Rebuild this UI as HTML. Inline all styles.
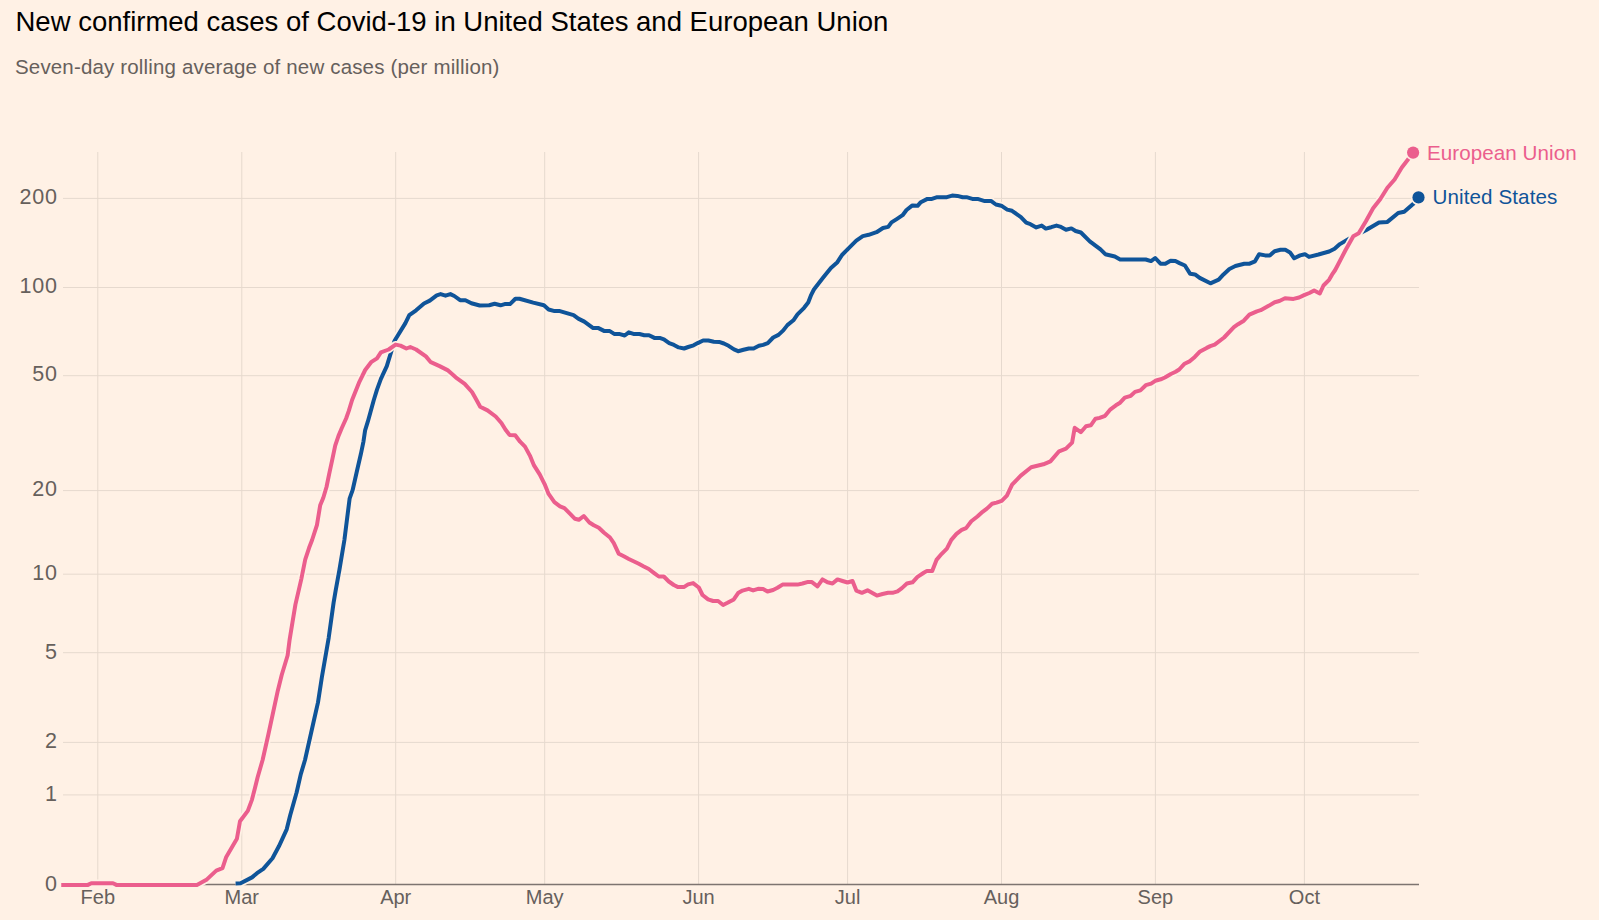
<!DOCTYPE html>
<html><head><meta charset="utf-8"><style>
html,body{margin:0;padding:0;background:#fff1e5;width:1599px;height:920px;overflow:hidden}
svg{position:absolute;left:0;top:0}
.ax{font:20px "Liberation Sans",sans-serif;fill:#66605c}
.num{font-size:21.5px;letter-spacing:0.75px}
.lab{font:20.6px "Liberation Sans",sans-serif}
</style></head><body>
<svg width="1599" height="920" viewBox="0 0 1599 920">
<text x="15.5" y="31" style="font:27.5px 'Liberation Sans',sans-serif" fill="#000">New confirmed cases of Covid-19 in United States and European Union</text>
<text x="15" y="73.6" style="font:20.5px 'Liberation Sans',sans-serif;letter-spacing:0.16px" fill="#66605c">Seven-day rolling average of new cases (per million)</text>
<line x1="63" x2="1419" y1="198.4" y2="198.4" stroke="#e6d9ce" stroke-width="1"/>
<line x1="63" x2="1419" y1="287.5" y2="287.5" stroke="#e6d9ce" stroke-width="1"/>
<line x1="63" x2="1419" y1="375.7" y2="375.7" stroke="#e6d9ce" stroke-width="1"/>
<line x1="63" x2="1419" y1="490.6" y2="490.6" stroke="#e6d9ce" stroke-width="1"/>
<line x1="63" x2="1419" y1="574.2" y2="574.2" stroke="#e6d9ce" stroke-width="1"/>
<line x1="63" x2="1419" y1="652.7" y2="652.7" stroke="#e6d9ce" stroke-width="1"/>
<line x1="63" x2="1419" y1="742.4" y2="742.4" stroke="#e6d9ce" stroke-width="1"/>
<line x1="63" x2="1419" y1="794.9" y2="794.9" stroke="#e6d9ce" stroke-width="1"/>
<line x1="97.8" x2="97.8" y1="152" y2="884" stroke="#e6d9ce" stroke-width="1"/>
<line x1="241.8" x2="241.8" y1="152" y2="884" stroke="#e6d9ce" stroke-width="1"/>
<line x1="395.7" x2="395.7" y1="152" y2="884" stroke="#e6d9ce" stroke-width="1"/>
<line x1="544.7" x2="544.7" y1="152" y2="884" stroke="#e6d9ce" stroke-width="1"/>
<line x1="698.6" x2="698.6" y1="152" y2="884" stroke="#e6d9ce" stroke-width="1"/>
<line x1="847.6" x2="847.6" y1="152" y2="884" stroke="#e6d9ce" stroke-width="1"/>
<line x1="1001.5" x2="1001.5" y1="152" y2="884" stroke="#e6d9ce" stroke-width="1"/>
<line x1="1155.4" x2="1155.4" y1="152" y2="884" stroke="#e6d9ce" stroke-width="1"/>
<line x1="1304.4" x2="1304.4" y1="152" y2="884" stroke="#e6d9ce" stroke-width="1"/>
<line x1="63" x2="1419" y1="884.5" y2="884.5" stroke="#7d7470" stroke-width="1.3"/>
<text x="57.7" y="204.0" text-anchor="end" class="ax num">200</text>
<text x="57.7" y="293.1" text-anchor="end" class="ax num">100</text>
<text x="57.7" y="381.3" text-anchor="end" class="ax num">50</text>
<text x="57.7" y="496.20000000000005" text-anchor="end" class="ax num">20</text>
<text x="57.7" y="579.8000000000001" text-anchor="end" class="ax num">10</text>
<text x="57.7" y="659.3000000000001" text-anchor="end" class="ax num">5</text>
<text x="57.7" y="748.3" text-anchor="end" class="ax num">2</text>
<text x="57.7" y="800.8" text-anchor="end" class="ax num">1</text>
<text x="57.7" y="891.2" text-anchor="end" class="ax num">0</text>
<text x="97.8" y="904" text-anchor="middle" class="ax">Feb</text>
<text x="241.8" y="904" text-anchor="middle" class="ax">Mar</text>
<text x="395.7" y="904" text-anchor="middle" class="ax">Apr</text>
<text x="544.7" y="904" text-anchor="middle" class="ax">May</text>
<text x="698.6" y="904" text-anchor="middle" class="ax">Jun</text>
<text x="847.6" y="904" text-anchor="middle" class="ax">Jul</text>
<text x="1001.5" y="904" text-anchor="middle" class="ax">Aug</text>
<text x="1155.4" y="904" text-anchor="middle" class="ax">Sep</text>
<text x="1304.4" y="904" text-anchor="middle" class="ax">Oct</text>
<polyline points="235.6,883.5 240.6,883.3 252,877.4 257,873.2 263.3,868.9 272.5,858.3 278.9,846.3 286.7,829.3 290.2,815.2 296.6,792.5 300.8,774.1 305,760 314,720 318,702.4 321.9,677 328.7,637.8 333.6,602.6 335.6,590.9 339.5,569.4 344.4,540 349.6,498.7 352.6,490.2 357,470.7 360.8,454.3 363.5,441.3 365.1,430.4 367.8,421.7 370.5,412 373.8,400 377,389.6 380.9,378.9 386.8,366.1 394.6,340.7 405.4,323.1 409.3,315.2 416.1,310.3 424,303.5 429.8,300.6 436.7,295.3 440.6,294.1 445.5,295.7 450.4,294.1 454.3,296 460.1,300.2 465.4,300.2 471.4,303.2 479.7,305.5 489.2,305.3 494.6,303.8 500.5,305.3 504.7,304.1 510,304.1 515.4,298.8 519.5,298.8 533.2,302.6 543.9,305.3 548.6,309.5 554.6,311.1 559.9,311.1 573.6,315.1 578.3,318.6 584.3,321.6 593.2,328.1 598.5,328.1 604.5,331.1 609.8,331.1 614.6,334.1 619.9,334.1 624.7,335.5 628.8,332.3 634.2,334.1 639.5,334 644.3,335.2 649,335.2 654.4,337.9 659.7,337.9 663.9,339.3 669.2,343.1 674,344.9 678.7,347.4 684.1,348.5 688.2,347 693.6,345.3 697.7,343.1 703.1,340.5 708.4,340.5 713.8,341.7 719.1,341.9 723.9,343.5 728.6,345.8 734,349.4 738.1,351.2 743.5,349.8 748.8,348.5 753.6,348.5 758.9,345.8 763.1,344.9 767.8,343.1 773.2,337.5 778.5,334.9 783.3,330.4 787.4,325.1 793.4,320.3 797.5,314.4 804.1,307.8 808.2,302.5 811.2,294.8 813.9,289.5 823,277.8 830.9,268 837.4,262.2 842,255 847.8,249.1 856.3,240.6 862.8,236.1 868.7,234.8 876.5,232.2 883,228 888.2,226.9 891.5,222.4 896.7,219.1 902.6,215.2 906.5,210 912.4,205.4 917.6,205.8 920.8,202.2 927.4,198.9 931.9,198.9 937.2,197.2 946.9,197.2 952.2,195.6 957.4,195.9 962.6,197.2 966.5,197.2 972.4,198.9 977.6,198.9 984.8,201.1 991.3,201.1 995.9,204.5 1001.3,205.7 1007.2,209.6 1012,210.8 1020.9,217.1 1026.2,222.7 1030.4,224.2 1036.3,227.4 1041.7,225.6 1045.8,228.6 1051.2,227.2 1056.5,225.6 1060.1,226.6 1066,229.8 1071.4,228.4 1075.6,231 1080.9,232.5 1089.8,241.3 1100.5,249.4 1105.3,254.2 1114.8,256.5 1120.1,259.5 1145.7,259.5 1151,261.1 1155.2,258 1160.5,263.7 1165.3,263.7 1170.6,260.7 1175.4,261 1179.5,263.1 1184.9,265.5 1190.2,273.8 1195,274.4 1199.7,277.9 1210.4,283.3 1218.7,279.7 1223.5,274.4 1229.4,269 1235.4,266 1244.3,263.7 1249.6,263.7 1255,261.3 1259.1,254.2 1265.1,255.4 1269.8,255.4 1274.6,251.2 1280.5,249.8 1285.3,249.8 1290,252.4 1294.2,258.3 1300.1,255.4 1304.9,254.2 1309,256.9 1318.5,254.5 1329.2,251.5 1334.6,248.8 1339.9,244.1 1349.1,238.7 1365.9,230.3 1379,222.5 1387.4,221.9 1398.2,213 1404.2,211.8 1413.7,203.4 1418.5,197.4" fill="none" stroke="#fff1e5" stroke-width="7.4" stroke-linejoin="round"/>
<polyline points="235.6,883.5 240.6,883.3 252,877.4 257,873.2 263.3,868.9 272.5,858.3 278.9,846.3 286.7,829.3 290.2,815.2 296.6,792.5 300.8,774.1 305,760 314,720 318,702.4 321.9,677 328.7,637.8 333.6,602.6 335.6,590.9 339.5,569.4 344.4,540 349.6,498.7 352.6,490.2 357,470.7 360.8,454.3 363.5,441.3 365.1,430.4 367.8,421.7 370.5,412 373.8,400 377,389.6 380.9,378.9 386.8,366.1 394.6,340.7 405.4,323.1 409.3,315.2 416.1,310.3 424,303.5 429.8,300.6 436.7,295.3 440.6,294.1 445.5,295.7 450.4,294.1 454.3,296 460.1,300.2 465.4,300.2 471.4,303.2 479.7,305.5 489.2,305.3 494.6,303.8 500.5,305.3 504.7,304.1 510,304.1 515.4,298.8 519.5,298.8 533.2,302.6 543.9,305.3 548.6,309.5 554.6,311.1 559.9,311.1 573.6,315.1 578.3,318.6 584.3,321.6 593.2,328.1 598.5,328.1 604.5,331.1 609.8,331.1 614.6,334.1 619.9,334.1 624.7,335.5 628.8,332.3 634.2,334.1 639.5,334 644.3,335.2 649,335.2 654.4,337.9 659.7,337.9 663.9,339.3 669.2,343.1 674,344.9 678.7,347.4 684.1,348.5 688.2,347 693.6,345.3 697.7,343.1 703.1,340.5 708.4,340.5 713.8,341.7 719.1,341.9 723.9,343.5 728.6,345.8 734,349.4 738.1,351.2 743.5,349.8 748.8,348.5 753.6,348.5 758.9,345.8 763.1,344.9 767.8,343.1 773.2,337.5 778.5,334.9 783.3,330.4 787.4,325.1 793.4,320.3 797.5,314.4 804.1,307.8 808.2,302.5 811.2,294.8 813.9,289.5 823,277.8 830.9,268 837.4,262.2 842,255 847.8,249.1 856.3,240.6 862.8,236.1 868.7,234.8 876.5,232.2 883,228 888.2,226.9 891.5,222.4 896.7,219.1 902.6,215.2 906.5,210 912.4,205.4 917.6,205.8 920.8,202.2 927.4,198.9 931.9,198.9 937.2,197.2 946.9,197.2 952.2,195.6 957.4,195.9 962.6,197.2 966.5,197.2 972.4,198.9 977.6,198.9 984.8,201.1 991.3,201.1 995.9,204.5 1001.3,205.7 1007.2,209.6 1012,210.8 1020.9,217.1 1026.2,222.7 1030.4,224.2 1036.3,227.4 1041.7,225.6 1045.8,228.6 1051.2,227.2 1056.5,225.6 1060.1,226.6 1066,229.8 1071.4,228.4 1075.6,231 1080.9,232.5 1089.8,241.3 1100.5,249.4 1105.3,254.2 1114.8,256.5 1120.1,259.5 1145.7,259.5 1151,261.1 1155.2,258 1160.5,263.7 1165.3,263.7 1170.6,260.7 1175.4,261 1179.5,263.1 1184.9,265.5 1190.2,273.8 1195,274.4 1199.7,277.9 1210.4,283.3 1218.7,279.7 1223.5,274.4 1229.4,269 1235.4,266 1244.3,263.7 1249.6,263.7 1255,261.3 1259.1,254.2 1265.1,255.4 1269.8,255.4 1274.6,251.2 1280.5,249.8 1285.3,249.8 1290,252.4 1294.2,258.3 1300.1,255.4 1304.9,254.2 1309,256.9 1318.5,254.5 1329.2,251.5 1334.6,248.8 1339.9,244.1 1349.1,238.7 1365.9,230.3 1379,222.5 1387.4,221.9 1398.2,213 1404.2,211.8 1413.7,203.4 1418.5,197.4" fill="none" stroke="#0f5499" stroke-width="4.0" stroke-linejoin="round"/>
<polyline points="61.25,884.9 87.9,884.9 91.3,883.2 113,883.2 116.4,884.9 196.9,884.9 206.9,879.4 216.25,870.6 222.5,868.1 226.25,856.9 236.9,838.75 240,821.25 247.8,810.9 252,799.6 254.9,788.3 257.7,777 262.6,760 268.3,734.8 277.8,690.7 281.7,675 287.6,655.5 289.6,639.8 292.5,622.2 295.4,604.6 301.3,579.1 305.2,559.6 309.1,547.8 312.1,540 317,524.8 320.2,505.2 323.3,497.8 326.5,487 329.2,473.9 332,460.9 335.2,445.7 338.5,435.9 341.7,428.3 346.1,418.5 348.8,410.9 352.1,400 359.4,381.8 365.2,370 371.1,362.2 377,358.3 380.9,352.4 388.7,349.5 395.6,344.6 400.5,345.6 406.4,348.5 410.3,347 416.1,349.5 425.9,356.4 430.8,362.2 439.6,366.1 447.5,370.1 455.7,377.3 464.7,383.9 472,392 476.1,399.3 480.2,406.7 487.5,410.4 495.7,416.5 501.4,423 505.4,429.5 509.5,434.9 515.2,435.2 520.1,441.7 525,446.6 529.9,455.6 534,465.4 539.7,474.4 544.6,484.1 548.6,493.9 554.4,502.1 560,506.3 564.4,508.1 569.4,513.1 575,518.8 578.8,519.8 583.8,516 589.4,522.5 593.8,525.3 598.8,527.8 603.8,532.5 610,537.5 613.8,543.1 618.8,553.8 623.8,556.3 628.8,559 638.8,563.8 643.8,566.5 648.8,569 653.8,572.8 658.8,576.5 663.8,576.5 668.8,581.5 673.8,585 678.1,587.1 683.8,587.1 688.1,584.4 693.1,583.1 698.8,587.5 702.5,595 708.1,599.4 713.1,601 718.1,601 723.1,605 727.5,602.8 733.8,599.4 738.1,593.1 742.5,590.6 748.8,588.8 753.1,590.4 758.1,588.8 763.1,589 767.5,591.5 773.1,590 777.5,587.8 782.5,584.6 797.5,584.6 802.5,583.5 808.1,581.9 811.9,582.1 817.5,586.3 822.5,579.4 827.5,582.3 832.5,583.5 837.5,579.4 842.5,581 847.5,582.5 852.5,581 856.3,590.6 861.9,592.8 867.5,590.3 876.9,595.6 882.5,594 888.1,592.8 892.5,592.8 897.5,591.3 901.9,588.1 906.9,583.5 912.5,582.3 917.5,576.9 923.8,572.8 927,570.9 932.2,570.9 936.5,559.9 941.7,553.8 946.9,548.6 951.3,539.9 956.5,533.9 961.7,529.9 966.1,528.1 971.3,521.3 977.4,516.5 982.6,511.8 986.9,508.6 992.1,503.8 996.5,502.6 1001.7,500.8 1006.9,495.6 1012.1,484.7 1020.8,475.6 1031.2,467.3 1043.4,464.3 1050.4,461.4 1059.1,451.3 1066,448.7 1072.1,442.6 1074.7,427.8 1080.8,432.2 1086,426.2 1090.8,425.3 1095.5,418.7 1099.7,417.9 1105.1,415.8 1110.5,409.3 1115.9,405.3 1120.1,402.7 1124.8,397.6 1130.8,395.8 1135,391.9 1140.4,390.4 1145.8,385.2 1151.1,383.6 1155.3,380.8 1160.7,379.3 1164.9,377.5 1170.9,374 1175.6,371.8 1179.2,369.5 1184.6,363.7 1190,361.1 1194.8,356.9 1199.6,351.8 1206.7,347.9 1210.3,346.1 1214.7,344.6 1224.1,337.5 1233.9,327.2 1238.1,324.2 1243.8,320.7 1249.4,314.6 1256.9,311.3 1260.7,310.2 1269.1,305.6 1274.7,302.2 1279.4,301 1285,298.3 1293.5,298.9 1299.1,297.5 1304.7,294.9 1309.4,293 1314.1,290.5 1319.8,293.5 1323.5,285.5 1329.1,279.8 1332,274.7 1335.2,270 1345.6,250 1353.3,236.3 1358.7,233.3 1365.9,221.3 1373.1,208.2 1380.2,199.2 1387.4,187.8 1394.6,179.5 1401.8,167.5 1407.8,159.7 1413.1,152.6" fill="none" stroke="#fff1e5" stroke-width="7.4" stroke-linejoin="round"/>
<polyline points="61.25,884.9 87.9,884.9 91.3,883.2 113,883.2 116.4,884.9 196.9,884.9 206.9,879.4 216.25,870.6 222.5,868.1 226.25,856.9 236.9,838.75 240,821.25 247.8,810.9 252,799.6 254.9,788.3 257.7,777 262.6,760 268.3,734.8 277.8,690.7 281.7,675 287.6,655.5 289.6,639.8 292.5,622.2 295.4,604.6 301.3,579.1 305.2,559.6 309.1,547.8 312.1,540 317,524.8 320.2,505.2 323.3,497.8 326.5,487 329.2,473.9 332,460.9 335.2,445.7 338.5,435.9 341.7,428.3 346.1,418.5 348.8,410.9 352.1,400 359.4,381.8 365.2,370 371.1,362.2 377,358.3 380.9,352.4 388.7,349.5 395.6,344.6 400.5,345.6 406.4,348.5 410.3,347 416.1,349.5 425.9,356.4 430.8,362.2 439.6,366.1 447.5,370.1 455.7,377.3 464.7,383.9 472,392 476.1,399.3 480.2,406.7 487.5,410.4 495.7,416.5 501.4,423 505.4,429.5 509.5,434.9 515.2,435.2 520.1,441.7 525,446.6 529.9,455.6 534,465.4 539.7,474.4 544.6,484.1 548.6,493.9 554.4,502.1 560,506.3 564.4,508.1 569.4,513.1 575,518.8 578.8,519.8 583.8,516 589.4,522.5 593.8,525.3 598.8,527.8 603.8,532.5 610,537.5 613.8,543.1 618.8,553.8 623.8,556.3 628.8,559 638.8,563.8 643.8,566.5 648.8,569 653.8,572.8 658.8,576.5 663.8,576.5 668.8,581.5 673.8,585 678.1,587.1 683.8,587.1 688.1,584.4 693.1,583.1 698.8,587.5 702.5,595 708.1,599.4 713.1,601 718.1,601 723.1,605 727.5,602.8 733.8,599.4 738.1,593.1 742.5,590.6 748.8,588.8 753.1,590.4 758.1,588.8 763.1,589 767.5,591.5 773.1,590 777.5,587.8 782.5,584.6 797.5,584.6 802.5,583.5 808.1,581.9 811.9,582.1 817.5,586.3 822.5,579.4 827.5,582.3 832.5,583.5 837.5,579.4 842.5,581 847.5,582.5 852.5,581 856.3,590.6 861.9,592.8 867.5,590.3 876.9,595.6 882.5,594 888.1,592.8 892.5,592.8 897.5,591.3 901.9,588.1 906.9,583.5 912.5,582.3 917.5,576.9 923.8,572.8 927,570.9 932.2,570.9 936.5,559.9 941.7,553.8 946.9,548.6 951.3,539.9 956.5,533.9 961.7,529.9 966.1,528.1 971.3,521.3 977.4,516.5 982.6,511.8 986.9,508.6 992.1,503.8 996.5,502.6 1001.7,500.8 1006.9,495.6 1012.1,484.7 1020.8,475.6 1031.2,467.3 1043.4,464.3 1050.4,461.4 1059.1,451.3 1066,448.7 1072.1,442.6 1074.7,427.8 1080.8,432.2 1086,426.2 1090.8,425.3 1095.5,418.7 1099.7,417.9 1105.1,415.8 1110.5,409.3 1115.9,405.3 1120.1,402.7 1124.8,397.6 1130.8,395.8 1135,391.9 1140.4,390.4 1145.8,385.2 1151.1,383.6 1155.3,380.8 1160.7,379.3 1164.9,377.5 1170.9,374 1175.6,371.8 1179.2,369.5 1184.6,363.7 1190,361.1 1194.8,356.9 1199.6,351.8 1206.7,347.9 1210.3,346.1 1214.7,344.6 1224.1,337.5 1233.9,327.2 1238.1,324.2 1243.8,320.7 1249.4,314.6 1256.9,311.3 1260.7,310.2 1269.1,305.6 1274.7,302.2 1279.4,301 1285,298.3 1293.5,298.9 1299.1,297.5 1304.7,294.9 1309.4,293 1314.1,290.5 1319.8,293.5 1323.5,285.5 1329.1,279.8 1332,274.7 1335.2,270 1345.6,250 1353.3,236.3 1358.7,233.3 1365.9,221.3 1373.1,208.2 1380.2,199.2 1387.4,187.8 1394.6,179.5 1401.8,167.5 1407.8,159.7 1413.1,152.6" fill="none" stroke="#eb5e8d" stroke-width="4.0" stroke-linejoin="round"/>
<circle cx="1418.5" cy="197.4" r="7.8" fill="#fff1e5"/><circle cx="1418.5" cy="197.4" r="6.1" fill="#0f5499"/>
<circle cx="1413.1" cy="152.6" r="7.8" fill="#fff1e5"/><circle cx="1413.1" cy="152.6" r="6.1" fill="#eb5e8d"/>
<text x="1427" y="160" class="lab" letter-spacing="0.06" fill="#eb5e8d">European Union</text>
<text x="1432.5" y="203.8" class="lab" letter-spacing="0.1" fill="#0f5499">United States</text>
</svg>
</body></html>
